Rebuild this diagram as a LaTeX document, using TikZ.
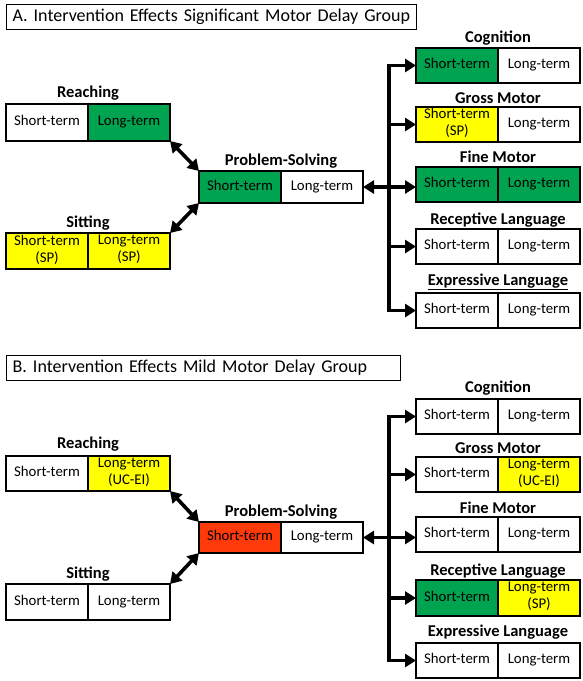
\documentclass[tikz,border=0pt]{standalone}
\usepackage{fontspec}
\setmainfont{Carlito}
\usetikzlibrary{arrows.meta,calc}
\definecolor{sig}{RGB}{0,163,80}
\definecolor{trend}{RGB}{255,255,0}
\definecolor{neg}{RGB}{255,58,10}
\tikzset{
  cell/.style={draw=black, line width=1.3pt, minimum width=82pt, inner sep=0pt, outer sep=0pt,
    align=center, font=\fontsize{14.8}{16.8}\selectfont,
    execute at begin node=\strut, execute at end node=\strut},
  lab/.style={font=\bfseries\fontsize{16.5}{18}\selectfont, inner sep=0pt},
  tip/.tip={Triangle[length=11pt,width=13pt]},
  arr/.style={line width=3.6pt, -tip},
  darr/.style={line width=3.6pt, tip-tip, line join=miter},
  titlebox/.style={draw=black, line width=1.3pt, anchor=north west, inner xsep=6pt, inner ysep=0pt,
    minimum height=25pt, align=left, font=\fontsize{18}{19}\selectfont},
}
\newcommand\pairbox[7]{%
  \node[cell, fill=#4, minimum height=#3, anchor=north west] (#1L) at (#2) {#5};
  \node[cell, fill=#6, minimum height=#3, anchor=north west] (#1R) at (#1L.north east) {#7};
}
\begin{document}
\begin{tikzpicture}[x=1pt, y=-1pt]
\useasboundingbox (0,0) rectangle (583,681);
% ---------------- Panel A ----------------
\node[titlebox, text width=398pt] (titA) at (6,4) {A. Intervention Effects Significant Motor Delay Group};
\pairbox{reachA}{6,104}{37pt}{white}{Short-term}{sig}{Long-term}
\pairbox{sitA}{6,233}{36pt}{trend}{Short-term\\(SP)}{trend}{Long-term\\(SP)}
\pairbox{psA}{199,171}{32pt}{sig}{Short-term}{white}{Long-term}
\pairbox{cogA}{416,48}{35pt}{sig}{Short-term}{white}{Long-term}
\pairbox{gmA}{416,107}{35pt}{trend}{Short-term\\(SP)}{white}{Long-term}
\pairbox{fmA}{416,167}{35pt}{sig}{Short-term}{sig}{Long-term}
\pairbox{rlA}{416,229}{35pt}{white}{Short-term}{white}{Long-term}
\pairbox{elA}{416,293}{35pt}{white}{Short-term}{white}{Long-term}
\node[lab] (reachAT) at ($(reachAL.north east)+(0,-11)$) {Reaching};
\node[lab] (sitAT) at ($(sitAL.north east)+(0,-10)$) {Sitting};
\node[lab] (psAT) at ($(psAL.north east)+(0,-10)$) {Problem-Solving};
\node[lab] (cogAT) at ($(cogAL.north east)+(0,-10)$) {Cognition};
\node[lab] (gmAT) at ($(gmAL.north east)+(0,-9)$) {Gross Motor};
\node[lab] (fmAT) at ($(fmAL.north east)+(0,-10)$) {Fine Motor};
\node[lab] (rlAT) at ($(rlAL.north east)+(0,-9)$) {Receptive Language};
\node[lab] (elAT) at ($(elAL.north east)+(0,-11)$) {\underline{Expressive Language}};
\coordinate (spA) at (389,0);
\draw[darr] (reachAR.south east) -- (psAL.north west);
\draw[darr] (sitAR.north east) -- (psAL.south west);
\draw[darr] (cogAL.west) -- (spA |- cogAL.west) -- (spA |- elAL.west) -- (elAL.west);
\draw[arr] (spA |- gmAL.west) -- (gmAL.west);
\draw[arr] (spA |- rlAL.west) -- (rlAL.west);
\draw[darr] (psAR.east) -- (psAR.east -| fmAL.west);
% ---------------- Panel B ----------------
\node[titlebox, text width=382pt] (titB) at (6,355) {B. Intervention Effects Mild Motor Delay Group};
\pairbox{reachB}{6,456}{35pt}{white}{Short-term}{trend}{Long-term\\(UC-EI)}
\pairbox{sitB}{6,584}{36pt}{white}{Short-term}{white}{Long-term}
\pairbox{psB}{199,522}{31pt}{neg}{Short-term}{white}{Long-term}
\pairbox{cogB}{416,399}{35pt}{white}{Short-term}{white}{Long-term}
\pairbox{gmB}{416,457}{35pt}{white}{Short-term}{trend}{Long-term\\(UC-EI)}
\pairbox{fmB}{416,517}{35pt}{white}{Short-term}{white}{Long-term}
\pairbox{rlB}{416,580}{36pt}{sig}{Short-term}{trend}{Long-term\\(SP)}
\pairbox{elB}{416,643}{35pt}{white}{Short-term}{white}{Long-term}
\node[lab] (reachBT) at ($(reachBL.north east)+(0,-12)$) {Reaching};
\node[lab] (sitBT) at ($(sitBL.north east)+(0,-10)$) {Sitting};
\node[lab] (psBT) at ($(psBL.north east)+(0,-10)$) {Problem-Solving};
\node[lab] (cogBT) at ($(cogBL.north east)+(0,-11)$) {Cognition};
\node[lab] (gmBT) at ($(gmBL.north east)+(0,-9)$) {Gross Motor};
\node[lab] (fmBT) at ($(fmBL.north east)+(0,-9)$) {Fine Motor};
\node[lab] (rlBT) at ($(rlBL.north east)+(0,-9)$) {Receptive Language};
\node[lab] (elBT) at ($(elBL.north east)+(0,-11)$) {Expressive Language};
\coordinate (spB) at (389,0);
\draw[darr] (reachBR.south east) -- (psBL.north west);
\draw[darr] (sitBR.north east) -- (psBL.south west);
\draw[darr] (cogBL.west) -- (spB |- cogBL.west) -- (spB |- elBL.west) -- (elBL.west);
\draw[arr] (spB |- gmBL.west) -- (gmBL.west);
\draw[arr] (spB |- rlBL.west) -- (rlBL.west);
\draw[darr] (psBR.east) -- (psBR.east -| fmBL.west);
\end{tikzpicture}
\end{document}
